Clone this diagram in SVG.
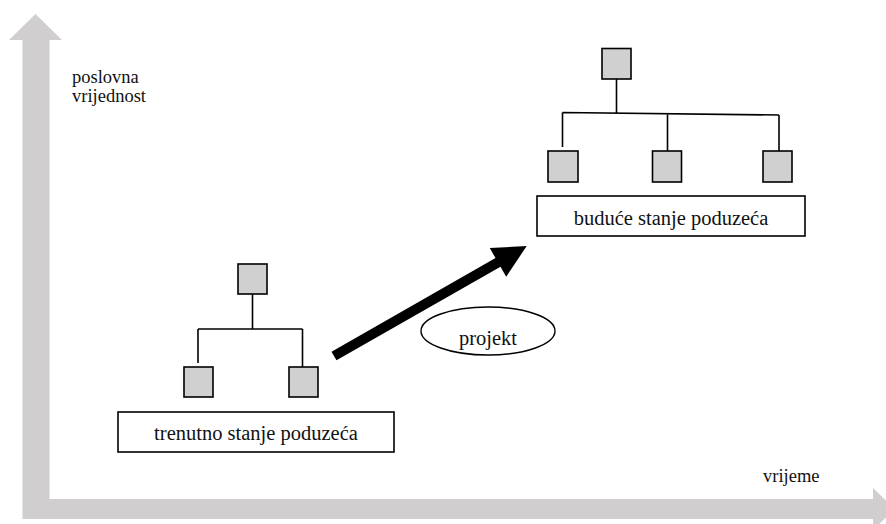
<svg xmlns="http://www.w3.org/2000/svg" width="886" height="524" viewBox="0 0 886 524">
<style>
  .axis { fill: #d0cece; stroke: none; }
  .sq { fill: #d0d0d0; stroke: #000; stroke-width: 1.6; }
  .ln { stroke: #000; stroke-width: 1.6; fill: none; }
  .box { fill: #fff; stroke: #000; stroke-width: 1.6; }
  .t { font-family: "Liberation Serif", "Times New Roman", serif; fill: #111; }
  .lbl { font-size: 20.5px; text-anchor: middle; }
  .ax { font-size: 18.5px; }
</style>
<rect width="886" height="524" fill="#fff"/>
<g id="axes">
  <path class="axis" d="M22.5,519 L22.5,40 L9,40 L35.5,14 L62,40 L49.5,40 L49.5,499 L873,499 L873,488 L895,509 L873,530 L873,519 Z"/>
  <text class="t ax" x="72" y="83">poslovna</text>
  <text class="t ax" x="72" y="102">vrijednost</text>
  <text class="t ax" x="763" y="482">vrijeme</text>
</g>
<g id="current-state">
  <path class="ln" d="M252.5,294 V329 M198,329 H302.5 M198,329 V363 M302.5,329 V367"/>
  <rect class="sq" x="238" y="264" width="29" height="30"/>
  <rect class="sq" x="184" y="367" width="29" height="30"/>
  <rect class="sq" x="289" y="367" width="29" height="30"/>
  <rect class="box" x="118" y="412" width="276" height="40"/>
  <text class="t lbl" x="256" y="440">trenutno stanje poduzeća</text>
</g>
<g id="future-state">
  <path class="ln" d="M616.5,79 V113.5 M562.5,112.5 L779,115 M562.5,112.5 V147 M667.5,114 V151 M779,115 V151"/>
  <rect class="sq" x="602" y="48.5" width="29" height="30.5"/>
  <rect class="sq" x="548" y="151" width="30" height="31"/>
  <rect class="sq" x="652.5" y="151" width="29" height="31"/>
  <rect class="sq" x="763" y="151" width="29" height="31"/>
  <rect class="box" x="537" y="196" width="268" height="40"/>
  <text class="t lbl" x="671" y="225">buduće stanje poduzeća</text>
</g>
<g id="projekt">
  <ellipse cx="488" cy="331" rx="67" ry="24" fill="#fff" stroke="#000" stroke-width="1.4"/>
  <text class="t lbl" x="488" y="345">projekt</text>
</g>
<g id="connectors">
  <polygon fill="#000" points="331.5,351.7 495.5,258.1 489.8,248.1 526.7,246 506.2,276.7 500.5,266.7 336.5,360.3"/>
</g>
</svg>
